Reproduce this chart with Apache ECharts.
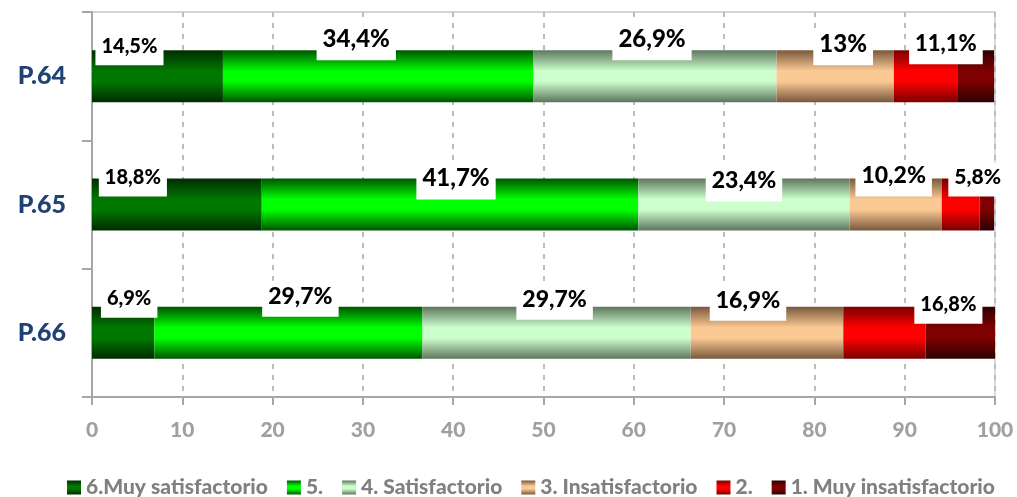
<!DOCTYPE html>
<html>
<head>
<meta charset="utf-8">
<script src="https://cdn.jsdelivr.net/npm/echarts@6/dist/echarts.min.js"></script>
<style>
  html, body { margin: 0; padding: 0; background: #ffffff; }
  #chart { width: 1017px; height: 497px; }
</style>
</head>
<body>
<div id="chart"></div>
<script>
// Questions, top to bottom
const categories = ['P.64', 'P.65', 'P.66'];

// Share of answers (%) for each level of satisfaction
const muySatisfactorio   = [14.5, 18.8, 6.9];
const nivel5             = [34.4, 41.7, 29.7];
const satisfactorio      = [26.9, 23.4, 29.7];
const insatisfactorio    = [13.0, 10.2, 16.9];
const nivel2             = [7.1, 4.2, 9.1];
const muyInsatisfactorio = [4.0, 1.6, 7.7];

const seriesNames = [
  '6.Muy satisfactorio', '5.', '4. Satisfactorio',
  '3. Insatisfactorio', '2.', '1. Muy insatisfactorio'
];
const xTicks = [0, 10, 20, 30, 40, 50, 60, 70, 80, 90, 100];

// Gradient colours (edge, centre) for each level
const palette = [
  ['#002c00', '#007800'],
  ['#005400', '#00ff00'],
  ['#5e765e', '#ccffcc'],
  ['#78583c', '#fbc994'],
  ['#7a0000', '#ff0000'],
  ['#2e0000', '#7e0000']
];

// Label box nudges [question][series] in px and font sizes
const labelFont = [[20, 24, 24, 24, 22], [20, 24, 23, 23, 21], [20, 23, 23, 23, 20]];
const labelDx   = [[-28, -22, -3, 8, 20], [-44, 6, 0, -2, 17], [6, 12, -2, -19, 64]];
const labelDy   = [[15, 10, 10, 15, 14], [18, 21, 23, 18, 18], [11, 10, 13, 14, 17]];

const FONT = 'Lato, "Noto Sans", sans-serif';
const HEAVY = 900;

function grad(edge, centre) {
  return new echarts.graphic.LinearGradient(0, 0, 0, 1, [
    { offset: 0, color: edge },
    { offset: 0.4, color: centre },
    { offset: 0.6, color: centre },
    { offset: 1, color: edge }
  ]);
}

function pct(v) {
  const r = Math.round(v * 10) / 10;
  return String(r).replace('.', ',') + '%';
}

const values = [muySatisfactorio, nivel5, satisfactorio, insatisfactorio, nivel2, muyInsatisfactorio];

const series = values.map(function (vals, s) {
  return {
    name: seriesNames[s],
    type: 'bar',
    stack: 'total',
    barWidth: 52,
    itemStyle: { color: grad(palette[s][0], palette[s][1]) },
    emphasis: { disabled: true },
    data: vals.map(function (v, c) {
      const item = { value: v };
      if (s < 5) {
        // the "2." label reports levels 2 and 1 together
        const shown = s === 4 ? v + muyInsatisfactorio[c] : v;
        item.label = {
          show: true,
          position: 'top',
          distance: 0,
          offset: [labelDx[c][s], labelDy[c][s]],
          formatter: pct(shown),
          fontFamily: FONT,
          fontWeight: HEAVY,
          fontSize: labelFont[c][s],
          lineHeight: labelFont[c][s],
          color: '#000000',
          backgroundColor: '#ffffff',
          padding: [4, 6, 9, 6]
        };
      }
      return item;
    })
  };
});

const chart = echarts.init(document.getElementById('chart'), null, { renderer: 'canvas' });
chart.setOption({
  animation: false,
  backgroundColor: '#ffffff',
  grid: {
    left: 92, right: 22, top: 12, bottom: 100,
    show: true, borderColor: '#c8c8c8', borderWidth: 1.3, backgroundColor: 'transparent'
  },
  legend: {
    data: seriesNames,
    left: 62,
    top: 472,
    itemWidth: 14,
    itemHeight: 14,
    itemGap: 19,
    icon: 'rect',
    textStyle: { fontFamily: FONT, fontWeight: HEAVY, fontSize: 21, color: '#808080' }
  },
  xAxis: {
    type: 'value',
    min: xTicks[0],
    max: xTicks[xTicks.length - 1],
    interval: xTicks[1] - xTicks[0],
    axisLine: { show: true, lineStyle: { color: '#a6a6a6', width: 2 } },
    axisTick: { show: true, length: 8, lineStyle: { color: '#a6a6a6', width: 2 } },
    axisLabel: {
      margin: 23,
      fontFamily: FONT, fontWeight: HEAVY, fontSize: 21, color: '#a0a0a0',
      formatter: function (v) { return String(v); }
    },
    splitLine: { show: true, lineStyle: { color: '#bdbdbd', width: 2, type: [5, 6] } }
  },
  yAxis: {
    type: 'category',
    data: categories,
    inverse: true,
    axisLine: { show: true, lineStyle: { color: '#a6a6a6', width: 2 } },
    axisTick: { show: true, length: 10, lineStyle: { color: '#a6a6a6', width: 2 } },
    axisLabel: {
      margin: 26,
      fontFamily: FONT, fontWeight: HEAVY, fontSize: 25, color: '#1f4173'
    },
    splitLine: { show: false }
  },
  series: series
});
</script>
</body>
</html>
